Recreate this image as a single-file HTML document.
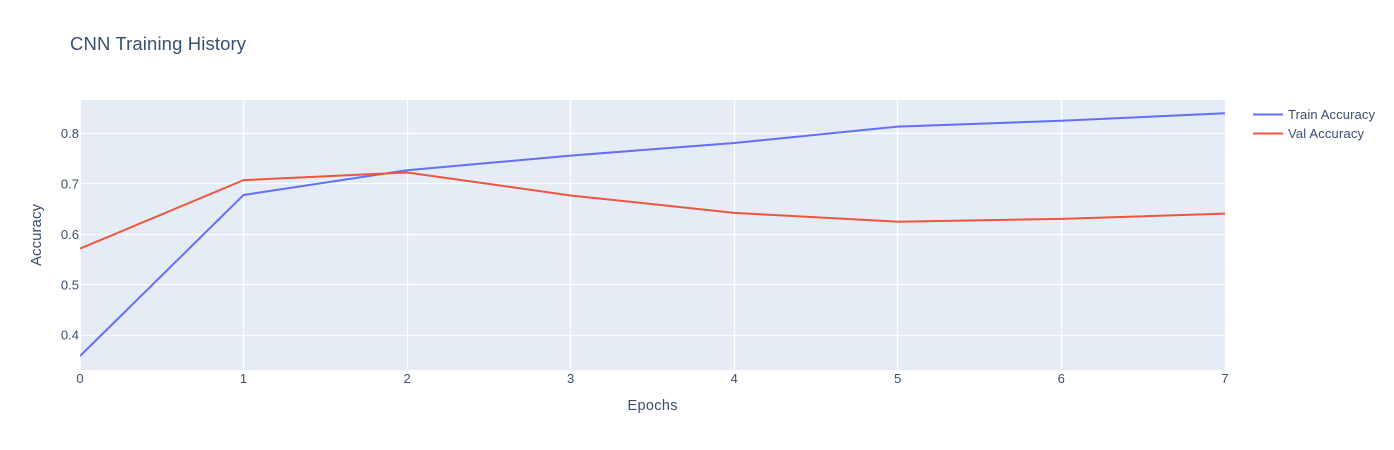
<!DOCTYPE html>
<html>
<head>
<meta charset="utf-8">
<title>CNN Training History</title>
<style>
html,body{margin:0;padding:0;background:#fff;width:1394px;height:450px;overflow:hidden}
svg{display:block}
text{font-family:"Liberation Sans","DejaVu Sans",sans-serif;fill:#3a4e6d}
</style>
</head>
<body>
<svg id="chart" xmlns="http://www.w3.org/2000/svg" width="1394" height="450" viewBox="0 0 1394 450">
  <defs><clipPath id="plot-clip"><rect x="80" y="100" width="1145" height="270"></rect></clipPath></defs>
  <rect x="81" y="100" width="1144" height="270" fill="#e5ecf6"></rect>
  <g id="grid"></g>
  <g id="series" clip-path="url(#plot-clip)"></g>
  <g id="ticks"></g>
  <text x="70" y="50" font-size="18.5" textLength="176" lengthAdjust="spacing">CNN Training History</text>
  <text x="652.5" y="410" font-size="14.5" text-anchor="middle" textLength="50" lengthAdjust="spacing">Epochs</text>
  <text transform="translate(41,235) rotate(-90)" font-size="15" text-anchor="middle" textLength="62" lengthAdjust="spacing">Accuracy</text>
  <g>
    <g>
      <line x1="1253" y1="114.5" x2="1283" y2="114.5" stroke="#636efa" stroke-width="2"></line>
      <text x="1288" y="119" font-size="13" textLength="87" lengthAdjust="spacing">Train Accuracy</text>
    </g>
    <g>
      <line x1="1253" y1="133.5" x2="1283" y2="133.5" stroke="#ef553b" stroke-width="2"></line>
      <text x="1288" y="138" font-size="13" textLength="76" lengthAdjust="spacing">Val Accuracy</text>
    </g>
  </g>
</svg>
<script>
const epochs = [0, 1, 2, 3, 4, 5, 6, 7];
const trainAccuracy = [0.3586, 0.678, 0.727, 0.756, 0.781, 0.8135, 0.825, 0.84];
const valAccuracy = [0.5716, 0.7074, 0.7225, 0.677, 0.6425, 0.625, 0.6305, 0.641];
const xTicks = [0, 1, 2, 3, 4, 5, 6, 7];
const yTicks = [0.4, 0.5, 0.6, 0.7, 0.8];

const NS = 'http://www.w3.org/2000/svg';
function xScale(v) { return 80 + v * 163.55; }
function yScale(v) { return 133.4 + (0.8 - v) * 504.5; }
function crisp(p) { return Math.floor(p) + 0.5; }

const gridGroup = document.getElementById('grid');
const tickGroup = document.getElementById('ticks');
const seriesGroup = document.getElementById('series');

xTicks.forEach(function (t) {
  const px = xScale(t);
  if (t > 0 && t < 7) {
    const line = document.createElementNS(NS, 'line');
    
    
    line.setAttribute('x1', crisp(px));
    line.setAttribute('x2', crisp(px));
    line.setAttribute('y1', 100);
    line.setAttribute('y2', 370);
    line.setAttribute('stroke', '#ffffff');
    line.setAttribute('stroke-width', 1.3);
    gridGroup.appendChild(line);
  }
  const label = document.createElementNS(NS, 'text');
  
  
  label.setAttribute('x', px);
  label.setAttribute('y', 383);
  label.setAttribute('font-size', 13);
  label.setAttribute('text-anchor', 'middle');
  label.textContent = String(t);
  tickGroup.appendChild(label);
});

yTicks.forEach(function (t) {
  const py = yScale(t);
  const line = document.createElementNS(NS, 'line');
  
  
  line.setAttribute('x1', 81);
  line.setAttribute('x2', 1225);
  line.setAttribute('y1', crisp(py));
  line.setAttribute('y2', crisp(py));
  line.setAttribute('stroke', '#ffffff');
  line.setAttribute('stroke-width', 1.3);
  gridGroup.appendChild(line);
  const label = document.createElementNS(NS, 'text');
  
  
  label.setAttribute('x', 79);
  label.setAttribute('y', py + 4.5);
  label.setAttribute('font-size', 13);
  label.setAttribute('text-anchor', 'end');
  label.textContent = t.toFixed(1);
  tickGroup.appendChild(label);
});

function drawSeries(values, color, name) {
  const d = values.map(function (v, i) {
    return (i ? 'L' : 'M') + xScale(epochs[i]).toFixed(2) + ',' + yScale(v).toFixed(2);
  }).join(' ');
  const path = document.createElementNS(NS, 'path');
  
  
  path.setAttribute('d', d);
  path.setAttribute('fill', 'none');
  path.setAttribute('stroke', color);
  path.setAttribute('stroke-width', 2);
  path.setAttribute('stroke-linejoin', 'round');
  seriesGroup.appendChild(path);
}
drawSeries(trainAccuracy, '#636efa', 'train-accuracy-line');
drawSeries(valAccuracy, '#ef553b', 'val-accuracy-line');
</script>
</body>
</html>
